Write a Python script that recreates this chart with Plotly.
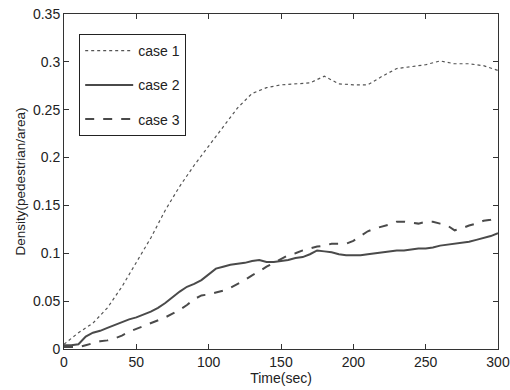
import plotly.graph_objects as go

t1 = [0, 10, 20, 30, 40, 50, 60, 70, 80, 90, 100, 110, 120, 130, 140, 150, 160, 170,
      180, 190, 200, 210, 220, 230, 240, 250, 260, 270, 280, 290, 300]
case1 = [0.005, 0.017, 0.027, 0.043, 0.065, 0.090, 0.116, 0.145, 0.170, 0.192, 0.212,
         0.232, 0.252, 0.267, 0.273, 0.276, 0.277, 0.278, 0.285, 0.277, 0.276, 0.276,
         0.285, 0.293, 0.295, 0.297, 0.301, 0.298, 0.298, 0.296, 0.291]

t23 = list(range(0, 301, 5))
case2 = [0.004, 0.004, 0.005, 0.013, 0.017, 0.019, 0.022, 0.025, 0.028, 0.031, 0.033,
         0.036, 0.039, 0.043, 0.048, 0.054, 0.060, 0.065, 0.068, 0.072, 0.078, 0.084,
         0.086, 0.088, 0.089, 0.090, 0.092, 0.093, 0.091, 0.091, 0.092, 0.093, 0.095,
         0.096, 0.099, 0.103, 0.102, 0.101, 0.099, 0.098, 0.098, 0.098, 0.099, 0.100,
         0.101, 0.102, 0.103, 0.103, 0.104, 0.105, 0.105, 0.106, 0.108, 0.109, 0.110,
         0.111, 0.112, 0.114, 0.116, 0.118, 0.121]
case3 = [0.002, 0.002, 0.002, 0.004, 0.006, 0.008, 0.009, 0.011, 0.014, 0.018, 0.021,
         0.024, 0.027, 0.030, 0.033, 0.037, 0.041, 0.046, 0.052, 0.056, 0.057, 0.059,
         0.061, 0.064, 0.068, 0.072, 0.077, 0.081, 0.086, 0.090, 0.094, 0.098, 0.100,
         0.103, 0.105, 0.107, 0.108, 0.110, 0.110, 0.110, 0.113, 0.118, 0.123, 0.126,
         0.128, 0.130, 0.133, 0.133, 0.132, 0.131, 0.133, 0.133, 0.131, 0.129, 0.124,
         0.126, 0.129, 0.131, 0.134, 0.135, 0.137]

x_ticks = [0, 50, 100, 150, 200, 250, 300]
y_ticks = [0, 0.05, 0.1, 0.15, 0.2, 0.25, 0.3, 0.35]
y_tick_labels = ["0", "0.05", "0.1", "0.15", "0.2", "0.25", "0.3", "0.35"]

line_col = "#4a4a4a"
fig = go.Figure()
fig.add_trace(go.Scatter(x=t1, y=case1, mode="lines", name="case 1", legendgroup="a",
                         line=dict(color="#555555", width=1.2, dash="dot")))
fig.add_trace(go.Scatter(x=t23, y=case2, mode="lines", name="case 2", legendgroup="b",
                         line=dict(color=line_col, width=2)))
fig.add_trace(go.Scatter(x=t23, y=case3, mode="lines", name="case 3", legendgroup="c",
                         line=dict(color=line_col, width=2, dash="dash")))

axis_common = dict(showgrid=False, zeroline=False, showline=True, linecolor="#333333",
                   linewidth=1, mirror="ticks", ticks="inside", ticklen=5, automargin=False,
                   ticklabeloverflow="allow",
                   tickcolor="#333333", tickfont=dict(size=14, color="#222222"))
fig.update_xaxes(range=[0, 300], tickvals=x_ticks, ticktext=[str(v) for v in x_ticks],
                 title=dict(text="Time(sec)", font=dict(size=14, color="#222222"), standoff=0),
                 **axis_common)
fig.update_yaxes(range=[0, 0.35], tickvals=y_ticks, ticktext=y_tick_labels,
                 title=dict(text="Density(pedestrian/area)", font=dict(size=13.5, color="#222222"),
                            standoff=4),
                 **axis_common)
fig.update_layout(
    width=510, height=390,
    margin=dict(l=64, r=12, t=14, b=41, autoexpand=False),
    paper_bgcolor="white", plot_bgcolor="white",
    font=dict(family="Liberation Sans, Arial, sans-serif", size=14, color="#222222"),
    legend=dict(x=0.035, y=0.94, xanchor="left", yanchor="top",
                bordercolor="#222222", borderwidth=1, bgcolor="white",
                tracegroupgap=13, itemwidth=48, font=dict(size=14)),
)
fig.write_html("out.html", config={"displayModeBar": False},
               post_script="document.body.style.margin='0';document.body.style.overflow='hidden';")
